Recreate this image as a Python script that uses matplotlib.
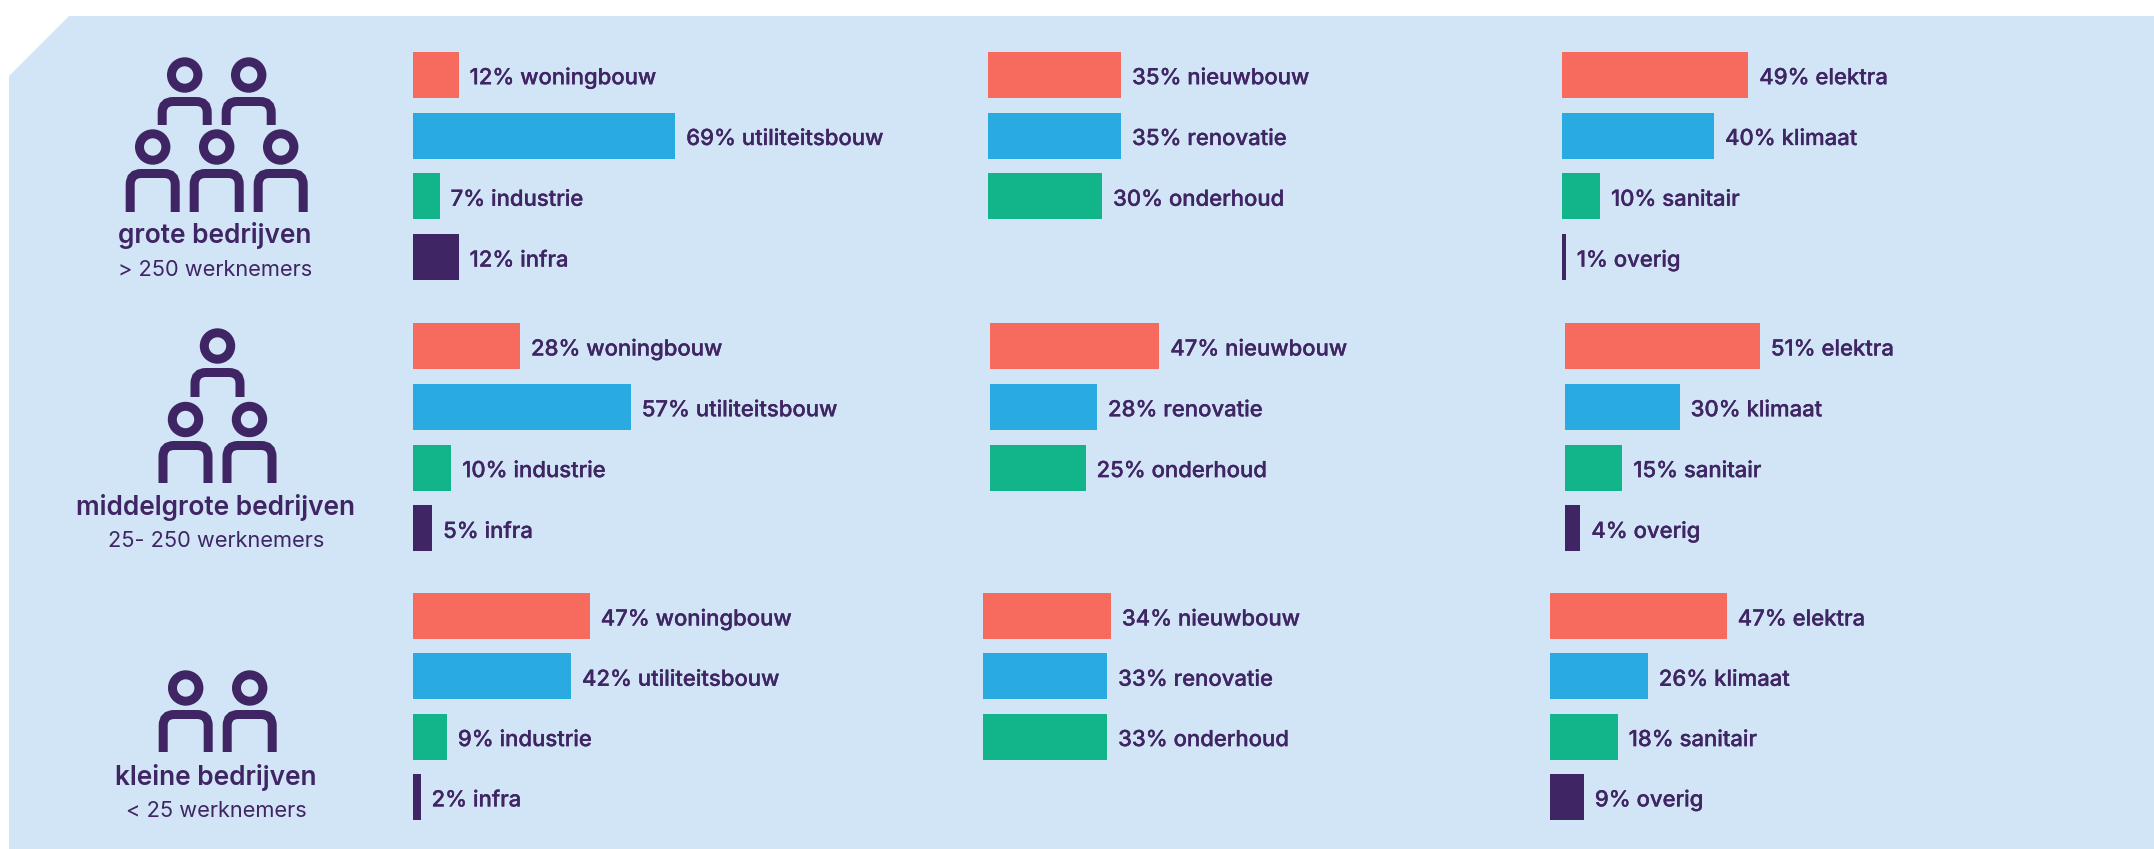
import matplotlib
matplotlib.use('Agg')
import matplotlib.pyplot as plt
import matplotlib.patheffects as pe
from matplotlib.patches import Circle, PathPatch, Polygon
from matplotlib.path import Path

W, H = 2154, 849
PX = 0.72  # one pixel in points at dpi 100

# values per company size
sector_labels = ['woningbouw', 'utiliteitsbouw', 'industrie', 'infra']
work_labels = ['nieuwbouw', 'renovatie', 'onderhoud']
install_labels = ['elektra', 'klimaat', 'sanitair', 'overig']

sector_large = [12, 69, 7, 12]
sector_mid = [28, 57, 10, 5]
sector_small = [47, 42, 9, 2]

work_large = [35, 35, 30]
work_mid = [47, 28, 25]
work_small = [34, 33, 33]

install_large = [49, 40, 10, 1]
install_mid = [51, 30, 15, 4]
install_small = [47, 26, 18, 9]

# the 47% nieuwbouw bar is drawn shorter than its label says
work_mid_drawn = [44.3, 28, 25]

group_titles = ['grote bedrijven', 'middelgrote bedrijven', 'kleine bedrijven']
group_subs = ['> 250 werknemers', '25- 250 werknemers', '< 25 werknemers']

colors = ['#F66B5D', '#29ABE2', '#12B58A', '#3F2564']
BG = '#D2E5F6'
INK = '#3F2564'
FONT = 'Inter'

fig = plt.figure(figsize=(W / 100, H / 100), dpi=100)

# full size axes in pixels for the panel and the icons
bg = fig.add_axes([0, 0, 1, 1])
bg.set_xlim(0, W)
bg.set_ylim(H, 0)
bg.axis('off')
bg.add_patch(Polygon([(69, 16), (W, 16), (W, H), (9, H), (9, 76)], closed=True, fc=BG, ec='none'))


def person(x, head_y, body_top, body_bottom):
    bg.add_patch(Circle((x, head_y), 13.2, fc='none', ec=INK, lw=9 * PX))
    left, right = x - 22.5, x + 22.5
    top = body_top + 4.5
    r = 11
    verts = [(left, body_bottom), (left, top + r), (left, top), (left + r, top),
             (right - r, top), (right, top), (right, top + r), (right, body_bottom)]
    codes = [Path.MOVETO, Path.LINETO, Path.CURVE3, Path.CURVE3,
             Path.LINETO, Path.CURVE3, Path.CURVE3, Path.LINETO]
    bg.add_patch(PathPatch(Path(verts, codes), fc='none', ec=INK, lw=9 * PX, capstyle='butt'))


# icons
person(184.7, 75, 97, 125)
person(248.7, 75, 97, 125)
for cx in [152.7, 216.7, 280.7]:
    person(cx, 147, 169, 212)

person(217.5, 346, 368, 397)
for cx in [185.5, 249.5]:
    person(cx, 419.5, 441, 483)

for cx in [185.7, 249.7]:
    person(cx, 688, 710, 752)

title_pos = [(215, 243), (216, 515), (216, 785)]
sub_pos = [(215, 276), (216, 547), (216, 817)]
for t, s, tp, sp in zip(group_titles, group_subs, title_pos, sub_pos):
    bg.text(tp[0], tp[1], t, ha='center', va='baseline', color=INK, family=FONT,
            fontsize=18.9, fontweight='semibold')
    bg.text(sp[0], sp[1], s, ha='center', va='baseline', color=INK, family=FONT, fontsize=15.7)


def bar_block(values, labels, x0, first_center, pitch, px_per_pct, drawn=None):
    left = x0 / W
    width = 100 * px_per_pct / W
    bottom = 1 - (first_center + pitch * 3.5) / H
    height = pitch * 4 / H
    ax = fig.add_axes([left, bottom, width, height])
    ax.patch.set_alpha(0)
    ax.set_xlim(0, 100)
    ax.set_ylim(3.5, -0.5)
    ax.axis('off')
    lengths = drawn if drawn is not None else values
    ypos = list(range(len(values)))
    ax.barh(ypos, lengths, height=46 / pitch, color=colors[:len(values)])
    for i, v in enumerate(values):
        ax.annotate(f'{v}% {labels[i]}', xy=(lengths[i], i), xytext=(11 * PX, -9.5 * PX),
                    textcoords='offset points', ha='left', va='baseline',
                    color=INK, family=FONT, fontsize=15.9, fontweight='medium',
                    annotation_clip=False,
                    path_effects=[pe.withStroke(linewidth=0.2, foreground=INK)])


rows = [(74.7, 60.8), (346.0, 60.8), (616, 60.3)]
scales = [3.8, 3.82, 3.76]
col_x = [(413, 988, 1562), (413, 990, 1565), (413, 983, 1550)]
sectors = [sector_large, sector_mid, sector_small]
works = [work_large, work_mid, work_small]
works_drawn = [work_large, work_mid_drawn, work_small]
installs = [install_large, install_mid, install_small]

for n in range(3):
    c, p = rows[n]
    s = scales[n]
    bar_block(sectors[n], sector_labels, col_x[n][0], c, p, s)
    bar_block(works[n], work_labels, col_x[n][1], c, p, s, drawn=works_drawn[n])
    bar_block(installs[n], install_labels, col_x[n][2], c, p, s)

fig.savefig('out.png', dpi=100, facecolor='white')
